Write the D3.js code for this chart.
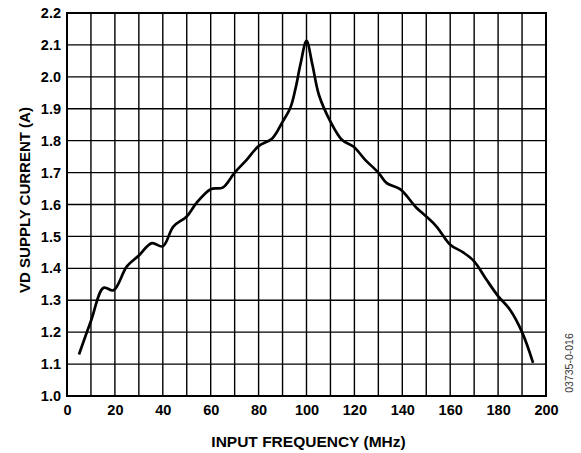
<!DOCTYPE html>
<html><head><meta charset="utf-8">
<script src="https://cdn.jsdelivr.net/npm/d3@7"></script>
<style>body{margin:0;background:#fff;} svg{display:block;}</style>
</head><body>
<svg id="c" width="581" height="453"></svg>
<script>
const freq = [5, 10, 15.3, 19.4, 25, 30, 35.4, 40, 44.4, 50, 54, 60, 65, 70, 75, 80, 85.7, 90, 93.3, 95.4, 97.5, 100, 102.4, 105.2, 110, 114.9, 119.7, 124.5, 130, 133.5, 139.1, 146, 150, 154.3, 160, 165.4, 170, 175.1, 180, 184.9, 190, 194.6];
const current = [1.13, 1.235, 1.339, 1.331, 1.406, 1.44, 1.479, 1.469, 1.531, 1.5625, 1.604, 1.648, 1.653, 1.70, 1.74, 1.783, 1.807, 1.859, 1.904, 1.963, 2.04, 2.1125, 2.04, 1.943, 1.86, 1.802, 1.781, 1.74, 1.70, 1.667, 1.648, 1.589, 1.5625, 1.531, 1.474, 1.45, 1.422, 1.365, 1.313, 1.271, 1.2, 1.104];
const xTicks = [0, 20, 40, 60, 80, 100, 120, 140, 160, 180, 200];
const yTicks = [1.0, 1.1, 1.2, 1.3, 1.4, 1.5, 1.6, 1.7, 1.8, 1.9, 2.0, 2.1, 2.2];
const xGrid = d3.range(0, 201, 10);

const L = 67, R = 546, T = 13, B = 396;
const svg = d3.select("#c");
const x = d3.scaleLinear().domain([0, 200]).range([L, R]);
const y = d3.scaleLinear().domain([1.0, 2.2]).range([B, T]);
const font = "'Liberation Sans', Arial, sans-serif";

const g = svg.append("g");
g.selectAll(".vx").data(xGrid).enter().append("line")
  .attr("x1", d => x(d)).attr("x2", d => x(d)).attr("y1", T).attr("y2", B)
  .attr("stroke", "#000").attr("stroke-width", 1.4);
g.selectAll(".hy").data(yTicks).enter().append("line")
  .attr("y1", d => y(d)).attr("y2", d => y(d)).attr("x1", L).attr("x2", R)
  .attr("stroke", "#000").attr("stroke-width", 1.4);
g.append("rect").attr("x", L).attr("y", T).attr("width", R - L).attr("height", B - T)
  .attr("fill", "none").attr("stroke", "#000").attr("stroke-width", 2);

const xa = svg.append("g").attr("transform", `translate(0,${B})`)
  .call(d3.axisBottom(x).tickValues(xTicks).tickSize(0).tickPadding(9).tickFormat(d3.format("d")));
xa.select(".domain").remove();
xa.selectAll("text").attr("font-family", font).attr("font-weight", "bold").attr("font-size", 14.5).attr("fill", "#000");

const ya = svg.append("g").attr("transform", `translate(${L},0)`)
  .call(d3.axisLeft(y).tickValues(yTicks).tickSize(0).tickPadding(6).tickFormat(d3.format(".1f")));
ya.select(".domain").remove();
ya.selectAll("text").attr("font-family", font).attr("font-weight", "bold").attr("font-size", 14.5).attr("fill", "#000");

const line = d3.line().x((d, i) => x(freq[i])).y(d => y(d)).curve(d3.curveCatmullRom.alpha(0.5));
svg.append("path").attr("d", line(current)).attr("fill", "none").attr("stroke", "#000")
  .attr("stroke-width", 2.7).attr("stroke-linejoin", "round");

svg.append("text").attr("x", (L + R) / 2 + 2).attr("y", 447).attr("text-anchor", "middle")
  .attr("font-family", font).attr("font-weight", "bold").attr("font-size", 15.5).text("INPUT FREQUENCY (MHz)");
svg.append("text").attr("transform", `translate(30,200) rotate(-90)`).attr("text-anchor", "middle")
  .attr("font-family", font).attr("font-weight", "bold").attr("font-size", 15).text("VD SUPPLY CURRENT (A)");
svg.append("text").attr("transform", `translate(573,363) rotate(-90)`).attr("text-anchor", "middle")
  .attr("font-family", font).attr("font-size", 10.5).attr("fill", "#333").text("03735-0-016");
</script>
</body></html>
